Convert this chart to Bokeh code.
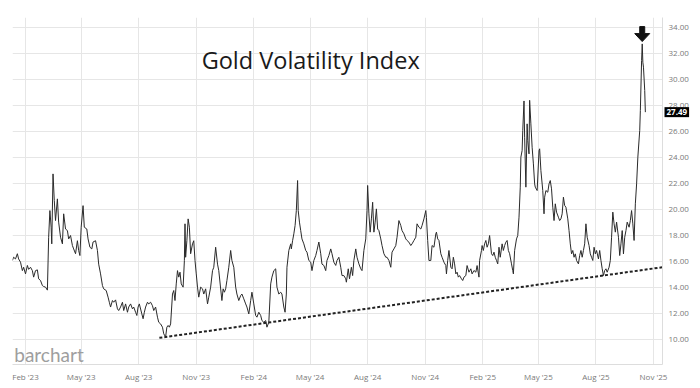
import numpy as np
import pandas as pd
from bokeh.plotting import figure
from bokeh.models import (Range1d, FixedTicker, PrintfTickFormatter, Label,
                          ColumnDataSource, DatetimeTickFormatter)
from bokeh.embed import file_html
from bokeh.resources import INLINE

# ---------------- data ----------------
BASE_DATE = "2023-01-01"   # day_offset counts calendar days from this date

day_offset = [
    10, 12, 15, 18, 20, 23, 26, 28, 31, 34,
    36, 39, 42, 44, 47, 50, 52, 55, 58, 60,
    63, 66, 68, 70, 72, 73, 75, 77, 79, 82,
    84, 87, 90, 92, 95, 98, 100, 103, 106, 108,
    111, 114, 116, 118, 120, 123, 125, 129, 131, 134,
    137, 139, 143, 146, 148, 151, 154, 156, 160, 163,
    165, 167, 170, 172, 175,
    178, 180, 183, 186, 188, 191, 194, 196, 199, 202,
    204, 207, 209, 211, 213, 217, 219, 221, 223, 226,
    228, 231, 234, 236, 239, 242, 244, 247, 250, 252,
    255, 257, 259, 261, 263, 266, 268, 270, 272, 274,
    276, 278, 280, 283, 285, 286, 287, 289, 291, 293,
    295, 298, 300, 302, 304, 306, 308, 311, 314, 316,
    319, 322, 324, 327, 330, 332, 335, 338, 340,
    345, 347, 349, 351, 353, 356, 359, 361, 364, 367,
    369, 372, 375, 377, 380, 383, 385, 388, 391, 393,
    396, 399, 401, 404, 407, 409, 412, 415, 417, 420,
    423, 425, 428, 431, 433, 436, 439, 441, 444, 446,
    448, 449, 452, 455, 456, 458, 460, 462, 464, 466,
    467, 469, 471, 473, 476, 479, 481, 484, 487, 489,
    492, 495, 497, 500, 503, 505, 508,
    511, 513, 516, 519, 521, 524, 527, 529, 532, 535,
    537, 540, 543, 544, 547, 549, 552, 554, 556, 559,
    561, 564, 567, 569, 572, 575, 577, 578, 580, 582,
    584, 586, 588, 590, 592, 594, 596, 599, 601, 604,
    607, 609, 612, 615, 617, 620, 623, 625, 628, 631,
    633, 636, 639, 641, 644, 647, 649, 652, 655, 657,
    660, 663, 665, 668, 671, 672, 674, 676,
    679, 681, 684, 687, 688, 690, 692, 695, 697, 700,
    703, 704, 706, 708, 711, 713, 715, 717, 719, 721,
    723, 725, 728, 730, 732, 735, 737, 740, 743, 745,
    748, 751, 753, 756, 757, 760, 761, 763, 765, 767,
    769, 771, 773, 776, 778, 780, 782, 784, 786, 788,
    790, 793, 795, 797, 799, 801, 803, 805, 808, 810,
    811, 813, 816, 818, 820, 822, 823, 825, 826, 828,
    829, 831, 833, 834, 836, 837, 839, 841, 843, 845,
    846, 849, 852, 853, 855, 858, 860, 861, 863, 866,
    868, 870, 872, 874, 876, 878, 880, 883, 885, 887,
    889, 891, 893, 895, 898, 900, 902, 904, 906, 908,
    910, 912, 915, 917, 919, 921, 923, 925, 927, 929,
    932, 934, 936, 938, 940, 942, 944, 947, 949, 951,
    953, 955, 957, 959, 961, 964, 966, 968, 970, 972,
    974, 976, 979, 981, 983, 985, 987, 989, 991, 993,
    996, 998, 1000, 1002, 1004, 1006, 1008, 1010, 1013, 1014,
    1016, 1017, 1018, 1019, 1021, 1022,
]

gvz = [
    16.08, 16.33, 16.2, 16.6, 16.2, 15.95, 15.3, 15.56, 15.05, 15.7,
    15.4, 15.56, 15.3, 14.8, 15.3, 15.36, 14.67, 14.54, 14.15, 14.08,
    14.03, 13.8, 17.87, 19.92, 18.64, 17.36, 22.74, 20.7, 19.15, 20.82,
    19.03, 17.87, 17.36, 19.67, 18.5, 18.38, 17.74, 18.0, 17.23, 16.97,
    16.6, 17.6, 16.85, 16.46, 18.64, 20.3, 18.64, 18.5, 17.74, 17.1,
    16.97, 17.5, 17.6, 16.85, 15.8, 15.05, 14.15, 13.9, 13.77, 13.26,
    12.87, 12.5, 13.0, 12.87, 13.05,
    12.36, 12.23, 12.5, 12.87, 12.23, 12.74, 12.1, 12.5, 12.74, 12.36,
    12.5, 12.1, 11.85, 12.5, 12.74, 11.97, 11.6, 12.1, 12.5, 12.87,
    12.74, 12.87, 12.6, 12.23, 12.5, 11.72, 11.33, 11.2, 10.95, 10.44,
    10.2, 10.95, 11.08, 10.95, 11.2, 13.5, 13.77, 13.0, 14.28, 15.3,
    14.8, 15.18, 14.28, 14.03, 16.08, 18.9, 16.33, 17.6, 19.28, 18.64,
    16.6, 17.36, 17.6, 16.08, 15.05, 14.03, 13.26, 14.03, 13.9, 13.5,
    13.9, 12.74, 13.26, 14.03, 15.3, 15.56, 17.1, 15.8, 15.3,
    13.0, 13.9, 13.64, 13.9, 14.54, 15.56, 16.85, 16.08, 15.56, 14.03,
    13.5, 13.0, 13.38, 13.5, 13.13, 12.74, 12.5, 11.97, 13.0, 13.64,
    12.74, 11.85, 11.72, 12.1, 11.85, 11.46, 11.33, 11.46, 10.95, 11.33,
    14.28, 14.8, 15.3, 15.44, 14.03, 13.5, 13.64, 13.5, 12.5, 12.1,
    13.5, 15.56, 16.85, 17.36, 16.97, 17.6, 18.13, 18.77, 19.92, 22.23,
    19.92, 19.03, 18.38, 17.74, 17.36, 16.85, 16.72, 16.08, 15.95, 15.3,
    16.08, 16.46, 16.85, 17.5, 16.6, 15.8, 15.7,
    15.3, 16.08, 16.46, 16.97, 16.6, 15.95, 15.7, 16.08, 16.33, 15.56,
    14.92, 14.92, 14.67, 14.41, 15.44, 14.67, 15.56, 14.92, 16.08, 16.97,
    16.33, 15.82, 15.44, 15.3, 16.85, 17.74, 19.92, 21.85, 19.67, 18.26,
    19.28, 20.56, 18.26, 19.03, 20.05, 18.5, 18.38, 17.74, 17.23, 16.6,
    16.33, 16.33, 16.08, 15.56, 16.72, 16.97, 17.23, 17.87, 19.15, 18.77,
    18.38, 18.13, 17.74, 17.62, 17.49, 17.23, 17.36, 17.62, 17.87, 18.9,
    18.64, 18.5, 18.77, 19.28, 19.92, 19.4, 17.62, 16.08,
    16.08, 17.23, 17.1, 18.13, 18.26, 17.74, 17.62, 16.6, 16.33, 15.95,
    15.69, 15.05, 16.08, 16.85, 15.56, 15.44, 16.33, 15.82, 15.05, 15.18,
    14.8, 14.92, 14.67, 14.54, 14.8, 14.92, 15.69, 15.18, 15.44, 15.05,
    15.31, 15.18, 15.69, 14.8, 16.08, 16.85, 17.23, 16.85, 17.36, 17.62,
    17.1, 17.36, 18.0, 16.6, 16.46, 16.72, 16.33, 16.08, 15.82, 17.1,
    16.33, 17.36, 16.85, 17.23, 17.49, 17.62, 16.85, 16.6, 15.82, 15.31,
    15.05, 16.85, 17.74, 18.0, 19.41, 21.72, 24.03, 24.54, 26.08, 28.35,
    25.56, 21.72, 26.59, 25.31, 24.28, 28.4, 26.59, 24.79, 23.51, 21.97,
    21.72, 21.46, 24.54, 24.67, 23.0, 21.46, 19.67, 20.95, 21.46, 21.33,
    21.97, 22.23, 21.59, 20.18, 19.15, 20.44, 19.8, 19.41, 19.15, 19.28,
    19.67, 20.95, 20.31, 20.18, 19.28, 18.38, 17.36, 16.59, 16.85, 16.33,
    16.59, 16.08, 15.82, 16.46, 16.85, 16.33, 16.85, 17.36, 18.9, 17.87,
    17.23, 16.59, 16.33, 16.08, 17.1, 16.59, 16.85, 16.2, 16.85, 16.08,
    15.44, 14.92, 15.31, 15.44, 15.18, 15.56, 16.08, 17.87, 19.8, 18.9,
    18.26, 19.03, 17.87, 16.46, 17.36, 18.38, 16.59, 17.87, 18.38, 19.03,
    18.64, 19.15, 19.92, 18.9, 17.62, 20.44, 21.97, 24.03, 26.08, 27.62,
    31.46, 32.74, 31.33, 30.95, 29.15, 27.49,
]

trend_dates = ["2023-09-03", "2025-11-15"]
trend_vals = [10.13, 15.56]

x_tick_labels = ["Feb '23", "May '23", "Aug '23", "Nov '23", "Feb '24", "May '24",
                 "Aug '24", "Nov '24", "Feb '25", "May '25", "Aug '25", "Nov '25"]
y_ticks = [10, 12, 14, 16, 18, 20, 22, 24, 26, 28, 30, 32, 34]

title_text = "Gold Volatility Index"
brand_text = "barchart"

assert len(day_offset) == len(gvz)

# ---------------- helpers ----------------
EPOCH = pd.Timestamp("1970-01-01")


def to_ms(ts):
    return (pd.Timestamp(ts) - EPOCH) / pd.Timedelta(milliseconds=1)


dates = pd.Timestamp(BASE_DATE) + pd.to_timedelta(day_offset, unit="D")
tick_dates = pd.to_datetime(x_tick_labels, format="%b '%y")
tick_ms = [int(to_ms(t)) for t in tick_dates]

X_START = pd.Timestamp("2023-01-11 05:00")
X_END = pd.Timestamp("2025-11-15 10:00")
Y_START, Y_END = 8.08, 34.77
FRAME_W, FRAME_H = 650, 347

FONT = "Open Sans"
GRID = "#e6e6e6"
LABEL_GREY = "#7a7a7a"

p = figure(x_axis_type="datetime", y_axis_location="right",
           frame_width=FRAME_W, frame_height=FRAME_H,
           x_range=Range1d(X_START, X_END), y_range=Range1d(Y_START, Y_END),
           output_backend="svg", toolbar_location=None,
           min_border_left=12, min_border_top=17, min_border_right=0,
           min_border_bottom=0)
p.outline_line_color = None
p.background_fill_color = "white"
p.border_fill_color = "white"

# axes
xa = p.xaxis[0]
xa.ticker = FixedTicker(ticks=tick_ms)
fmt = "%b '%y"
xa.formatter = DatetimeTickFormatter(milliseconds=fmt, seconds=fmt, minsec=fmt,
                                     minutes=fmt, hourmin=fmt, hours=fmt, days=fmt,
                                     months=fmt, years=fmt)
ya = p.yaxis[0]
ya.ticker = FixedTicker(ticks=y_ticks)
ya.formatter = PrintfTickFormatter(format="%.2f")
for ax in (xa, ya):
    ax.axis_line_color = "#dddddd"
    ax.axis_line_width = 1
    ax.major_tick_line_color = None
    ax.minor_tick_line_color = None
    ax.major_tick_out = 0
    ax.major_tick_in = 0
    ax.major_label_text_font = FONT
    ax.major_label_text_font_size = "8px"
    ax.major_label_text_color = LABEL_GREY
    ax.major_label_standoff = 6

p.xgrid.grid_line_color = GRID
p.ygrid.grid_line_color = GRID
p.xgrid.grid_line_width = 1
p.ygrid.grid_line_width = 1

# series
src = ColumnDataSource(dict(date=dates, value=gvz))
p.line("date", "value", source=src, line_color="#2a2a2a", line_width=1)

# trend line (dotted)
p.line(pd.to_datetime(trend_dates), trend_vals, line_color="#222222",
       line_width=2, line_dash="3 2")

# arrow above the peak
ms_per_px = (to_ms(X_END) - to_ms(X_START)) / FRAME_W
val_per_px = (Y_END - Y_START) / FRAME_H
i_peak = int(np.argmax(gvz))
xp = to_ms(dates[i_peak])
yp = gvz[i_peak]
tip_y = yp + 2.3 * val_per_px
base_y = tip_y + 8 * val_per_px
top_y = base_y + 7 * val_per_px
ax_x = [xp, xp - 7.5 * ms_per_px, xp - 2.5 * ms_per_px, xp - 2.5 * ms_per_px,
        xp + 2.5 * ms_per_px, xp + 2.5 * ms_per_px, xp + 7.5 * ms_per_px]
ax_y = [tip_y, base_y, base_y, top_y, top_y, base_y, base_y]
p.patch(ax_x, ax_y, fill_color="#111111", line_color="#111111")

# title
p.add_layout(Label(x=to_ms("2023-11-09 14:00"), y=31.52, text=title_text,
                   text_font=FONT, text_font_size="23.5px", text_color="#1a1a1a",
                   text_align="left", text_baseline="alphabetic"))

# brand watermark
p.add_layout(Label(x=to_ms("2023-01-14"), y=8.87, text=brand_text,
                   text_font="Lato", text_font_size="19px", text_color="#9e9e9e",
                   text_align="left", text_baseline="alphabetic"))

# last value tag (placed in the right side panel so it is not clipped to the frame)
p.add_layout(Label(x=to_ms(X_END), y=gvz[-1], text=f"{gvz[-1]:.2f}",
                   text_font=FONT, text_font_style="bold", text_font_size="8px",
                   text_color="white", background_fill_color="black",
                   text_align="left", text_baseline="middle", x_offset=2,
                   padding=2), "right")

open("out.html", "w").write(file_html(p, INLINE))
